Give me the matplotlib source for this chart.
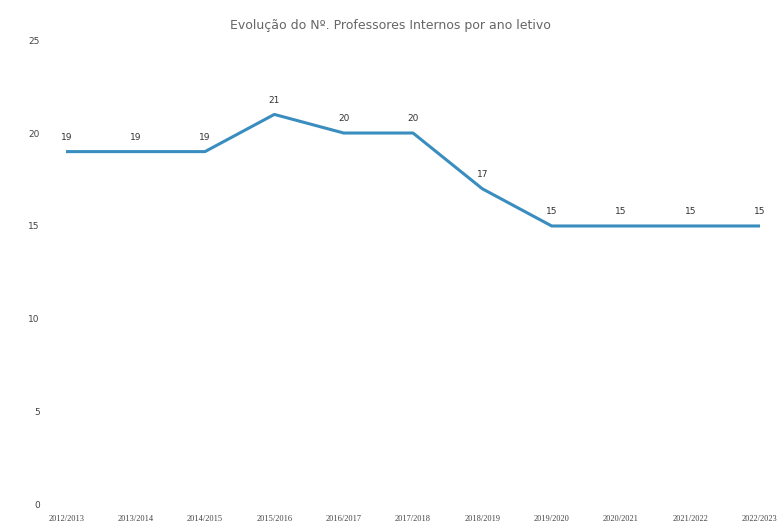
import numpy as np
import matplotlib.pyplot as plt

anos = ["2012/2013", "2013/2014", "2014/2015", "2015/2016", "2016/2017", "2017/2018",
        "2018/2019", "2019/2020", "2020/2021", "2021/2022", "2022/2023"]
professores = [19, 19, 19, 21, 20, 20, 17, 15, 15, 15, 15]
y_ticks = [0, 5, 10, 15, 20, 25]

fig = plt.figure(figsize=(7.8, 5.27), dpi=100)
ax = fig.add_axes([0.085, 0.042, 0.889, 0.882])

x = np.arange(len(anos))
ax.plot(x, professores, color="#3a8dbf", linewidth=2.2)

for xi, v in zip(x, professores):
    ax.annotate(str(v), (xi, v), xytext=(0, 7), textcoords="offset points",
                ha="center", va="bottom", fontsize=6.5, color="#333333")

ax.set_xlim(0, len(anos) - 1)
ax.set_ylim(0, 25)
ax.set_yticks(y_ticks)
ax.set_xticks(x)
ax.set_xticklabels(anos, fontsize=6, color="#444444", family="Liberation Serif")
ax.tick_params(axis="y", labelsize=6.5, labelcolor="#444444", length=0, pad=19)
ax.tick_params(axis="x", length=0, pad=7)
for s in ax.spines.values():
    s.set_visible(False)

fig.text(0.5, 0.952, "Evolução do Nº. Professores Internos por ano letivo",
         ha="center", va="center", fontsize=9, color="#666666")

fig.savefig("out.png", dpi=100)
